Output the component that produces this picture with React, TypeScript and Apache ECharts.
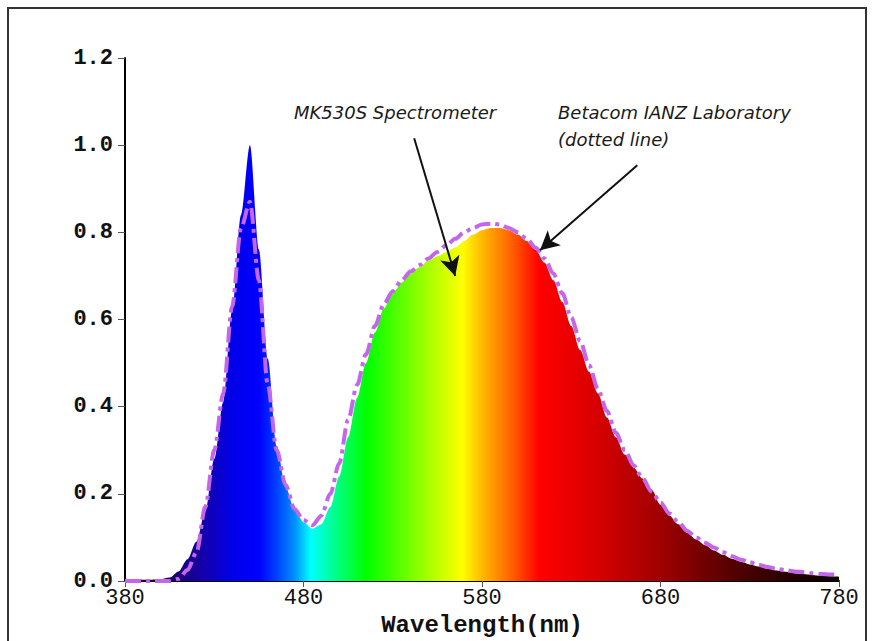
import React, { useEffect, useRef } from "react";
import * as echarts from "echarts";

// Wavelength grid (nm)
const wavelengths: number[] = [
  380, 385, 390, 395, 400, 405, 410, 415, 420, 425, 430, 435, 440, 445, 450, 455, 460, 465, 470, 475,
  480, 485, 490, 495, 500, 505, 510, 515, 520, 525, 530, 535, 540, 545, 550, 555, 560, 565, 570, 575,
  580, 585, 590, 595, 600, 605, 610, 615, 620, 625, 630, 635, 640, 645, 650, 655, 660, 665, 670, 675,
  680, 685, 690, 695, 700, 705, 710, 715, 720, 725, 730, 735, 740, 745, 750, 755, 760, 765, 770, 775, 780,
];

// MK530S Spectrometer (coloured fill)
const mk530s: number[] = [
  0.005, 0.004, 0.003, 0.003, 0.004, 0.008, 0.022, 0.05, 0.09, 0.16, 0.28, 0.41, 0.62, 0.84, 1.0, 0.76, 0.51, 0.31, 0.215, 0.165,
  0.135, 0.12, 0.13, 0.17, 0.24, 0.33, 0.42, 0.5, 0.57, 0.625, 0.66, 0.685, 0.705, 0.72, 0.735, 0.745, 0.755, 0.765, 0.78, 0.795,
  0.805, 0.81, 0.81, 0.805, 0.795, 0.78, 0.76, 0.73, 0.69, 0.64, 0.585, 0.53, 0.48, 0.43, 0.375, 0.33, 0.29, 0.26, 0.235, 0.21,
  0.175, 0.15, 0.13, 0.11, 0.095, 0.082, 0.07, 0.06, 0.051, 0.044, 0.038, 0.033, 0.028, 0.024, 0.021, 0.018, 0.016, 0.014, 0.012, 0.011, 0.01,
];

// Betacom IANZ Laboratory (dotted line)
const betacom: number[] = [
  0.0, 0.0, 0.0, 0.0, 0.0, 0.0, 0.005, 0.025, 0.065, 0.17, 0.3, 0.43, 0.63, 0.81, 0.87, 0.69, 0.45, 0.3, 0.22, 0.165,
  0.14, 0.128, 0.15, 0.2, 0.27, 0.37, 0.45, 0.52, 0.585, 0.635, 0.665, 0.69, 0.71, 0.725, 0.74, 0.755, 0.77, 0.785, 0.8, 0.81,
  0.818, 0.82, 0.818, 0.81, 0.8, 0.785, 0.765, 0.74, 0.705, 0.66, 0.605, 0.55, 0.495, 0.44, 0.39, 0.34, 0.3, 0.265, 0.235, 0.205,
  0.18, 0.155, 0.135, 0.115, 0.1, 0.088, 0.077, 0.066, 0.057, 0.049, 0.043, 0.037, 0.032, 0.028, 0.025, 0.022, 0.02, 0.018, 0.016, 0.015, 0.015,
];

const yTicks: number[] = [0, 0.2, 0.4, 0.6, 0.8, 1.0, 1.2];
const xTicks: number[] = [380, 480, 580, 680, 780];

// Spectrum colour stops (wavelength -> colour)
const spectrumStops: [number, string][] = [
  [380, "#0a0020"], [400, "#140050"], [412, "#1a0080"], [425, "#1400b0"], [440, "#0000e8"], [455, "#0000ff"],
  [465, "#0040ff"], [475, "#0090ff"], [484, "#00ffff"], [497, "#00ff90"], [515, "#00ff00"], [532, "#50ff00"],
  [552, "#b0ff00"], [569, "#ffff00"], [580, "#ffb800"], [596, "#ff6400"], [612, "#ff0000"], [640, "#dd0000"],
  [680, "#a00000"], [705, "#700000"], [730, "#450000"], [760, "#1c0000"], [780, "#080000"],
];

export default function App() {
  const ref = useRef<HTMLDivElement>(null);
  useEffect(() => {
    if (!ref.current) return;
    const chart = echarts.init(ref.current, null, { renderer: "svg" });
    const xMin = xTicks[0];
    const xMax = xTicks[xTicks.length - 1];
    const grad = new echarts.graphic.LinearGradient(
      0, 0, 1, 0,
      spectrumStops.map(([w, c]) => ({ offset: (w - xMin) / (xMax - xMin), color: c }))
    );
    const mono = '"Liberation Mono", "Courier New", monospace';
    const hand = '"DejaVu Sans", sans-serif';
    const noteStyle = {
      fontFamily: hand, fontStyle: "italic", fontSize: 18, fill: "#1a1a1a",
      textVerticalAlign: "middle", textAlign: "left",
    };
    chart.setOption({
      animation: false,
      backgroundColor: "#ffffff",
      grid: { left: 125, right: 33, top: 58, bottom: 60, containLabel: false, outerBoundsMode: "none" },
      xAxis: {
        type: "value",
        min: xMin,
        max: xMax,
        interval: 100,
        name: "Wavelength(nm)",
        nameLocation: "middle",
        nameGap: 26,
        nameTextStyle: { fontFamily: mono, fontWeight: "bold", fontSize: 24, color: "#111" },
        axisLine: { show: true, onZero: false, lineStyle: { color: "#000", width: 2 } },
        axisTick: { show: true, length: 6, lineStyle: { color: "#555", width: 1 } },
        axisLabel: { fontFamily: mono, fontSize: 22, color: "#111", margin: 6 },
        splitLine: { show: false },
      },
      yAxis: {
        type: "value",
        min: 0,
        max: yTicks[yTicks.length - 1],
        interval: 0.2,
        axisLine: { show: true, lineStyle: { color: "#000", width: 2 } },
        axisTick: { show: true, length: 7, lineStyle: { color: "#555", width: 1 } },
        axisLabel: {
          fontFamily: mono, fontSize: 22, fontWeight: "bold", color: "#111", margin: 12,
          formatter: (v: number) => v.toFixed(1),
        },
        splitLine: { show: false },
      },
      graphic: [
        {
          type: "rect",
          shape: { x: 8, y: 8, width: 858, height: 645 },
          style: { fill: "none", stroke: "#333", lineWidth: 2 },
          z: 100,
        },
        { type: "text", x: 294, y: 112, style: { ...noteStyle, text: "MK530S Spectrometer" } },
        { type: "text", x: 558, y: 112, style: { ...noteStyle, text: "Betacom IANZ Laboratory" } },
        { type: "text", x: 558, y: 139, style: { ...noteStyle, text: "(dotted line)" } },
      ],
      series: [
        {
          name: "MK530S Spectrometer",
          type: "line",
          data: wavelengths.map((w, i) => [w, mk530s[i]]),
          showSymbol: false,
          smooth: 0.3,
          smoothMonotone: "x",
          lineStyle: { width: 0 },
          areaStyle: { color: grad, opacity: 1 },
          silent: true,
          z: 2,
        },
        {
          name: "Betacom IANZ Laboratory",
          type: "line",
          data: wavelengths.map((w, i) => [w, betacom[i]]),
          showSymbol: false,
          smooth: 0.3,
          smoothMonotone: "x",
          lineStyle: { color: "#c466ec", width: 4, type: [16, 5, 4, 5] },
          silent: true,
          z: 3,
          markLine: {
            silent: true,
            symbol: ["none", "arrow"],
            symbolSize: [15, 19],
            label: { show: false },
            lineStyle: { color: "#111", width: 2, type: "solid" },
            emphasis: { disabled: true },
            data: [
              [{ coord: [542, 1.016] }, { coord: [565, 0.7] }],
              [{ coord: [667, 0.954] }, { coord: [612.5, 0.759] }],
            ],
          },
        },
      ],
    });
    return () => chart.dispose();
  }, []);
  return (
    <div
      ref={ref}
      style={{ position: "absolute", left: 0, top: 0, width: 872, height: 641, background: "#fff" }}
    />
  );
}
